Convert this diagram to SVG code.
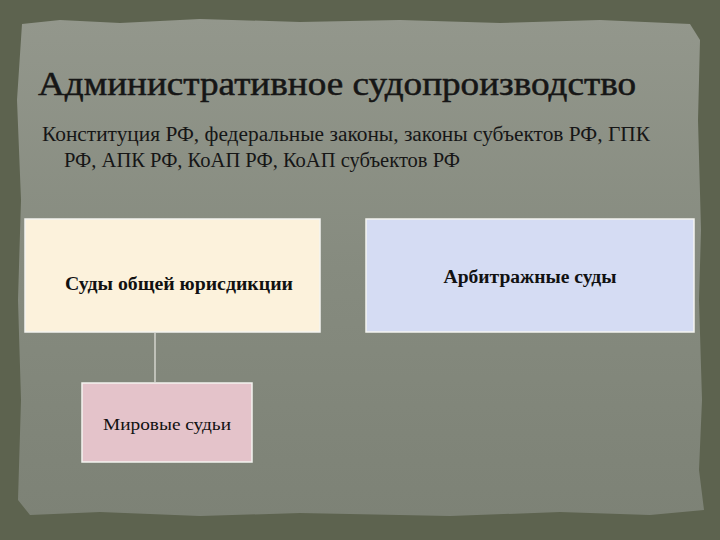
<svg xmlns="http://www.w3.org/2000/svg" width="720" height="540" viewBox="0 0 720 540">
<defs>
<linearGradient id="paper" x1="0" y1="0" x2="0" y2="1">
<stop offset="0" stop-color="#93978c"/>
<stop offset="0.5" stop-color="#868b7f"/>
<stop offset="1" stop-color="#7d8276"/>
</linearGradient>
<style>
.t{font-family:"Liberation Serif","DejaVu Serif",serif;fill:#161616}
.box{stroke:#f4f4f0;stroke-width:1.5}
.lbl{font-family:"Liberation Serif","DejaVu Serif",serif;fill:#111;text-anchor:middle}
</style>
</defs>
<rect x="0" y="0" width="720" height="540" fill="#5d634f"/>
<path d="M22 24 L60 20 L120 23 L200 19 L300 22 L400 20 L500 23 L600 20 L690 24 L700 40 L698 120 L701 230 L699 300 L702 400 L699 470 L704 510 L650 515 L560 512 L450 516 L300 513 L200 516 L100 512 L30 515 L18 500 L21 400 L18 300 L21 200 L17 100 Z" fill="url(#paper)"/>
<text class="t" x="38" y="95" font-size="33" stroke="#161616" stroke-width="0.5" textLength="598" lengthAdjust="spacingAndGlyphs">Административное судопроизводство</text>
<text class="t" x="42" y="141" font-size="20" textLength="608" lengthAdjust="spacingAndGlyphs">Конституция РФ, федеральные законы, законы субъектов РФ, ГПК</text>
<text class="t" x="64" y="167" font-size="20" textLength="396" lengthAdjust="spacingAndGlyphs">РФ, АПК РФ, КоАП РФ, КоАП субъектов РФ</text>
<g id="connectors">
<line x1="155" y1="333" x2="155" y2="382" stroke="#e8e8e2" stroke-width="1.2"/>
</g>
<g id="node-general">
<rect class="box" x="25" y="219" width="295" height="113" fill="#fcf2dc"/>
<text class="lbl" x="179" y="290" font-size="18" font-weight="bold" textLength="228" lengthAdjust="spacingAndGlyphs">Суды общей юрисдикции</text>
</g>
<g id="node-arbitrage">
<rect class="box" x="366" y="219" width="328" height="113" fill="#d5dcf3"/>
<text class="lbl" x="530" y="283" font-size="18" font-weight="bold" textLength="173" lengthAdjust="spacingAndGlyphs">Арбитражные суды</text>
</g>
<g id="node-mirovye">
<rect class="box" x="82" y="383" width="170" height="79" fill="#e4c3ca"/>
<text class="lbl" x="167" y="430" font-size="17" textLength="128" lengthAdjust="spacingAndGlyphs">Мировые судьи</text>
</g>
</svg>
